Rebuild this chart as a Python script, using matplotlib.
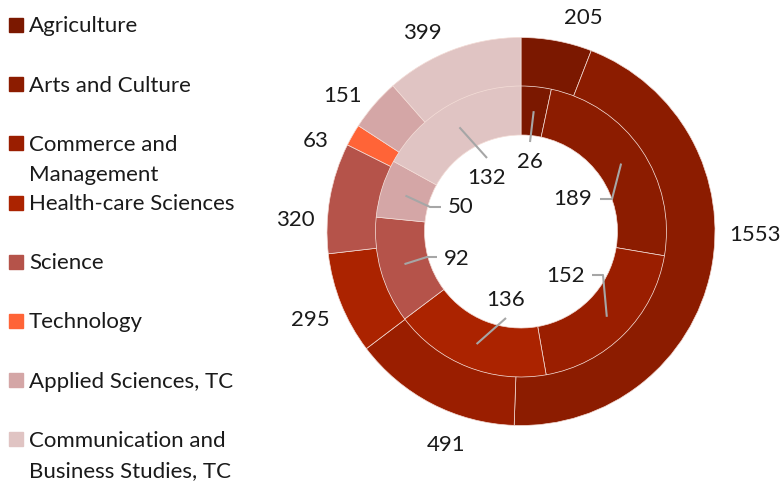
import matplotlib
matplotlib.use("Agg")
import matplotlib.pyplot as plt
from matplotlib.patches import Rectangle
import numpy as np

plt.rcParams['font.family'] = ['Lato', 'DejaVu Sans']

categories = ["Agriculture", "Arts and Culture", "Commerce and\nManagement",
              "Health-care Sciences", "Science", "Technology",
              "Applied Sciences, TC", "Communication and\nBusiness Studies, TC"]
outer_values = [205, 1553, 491, 295, 320, 63, 151, 399]
inner_values = [26, 189, 152, 136, 92, 0, 50, 132]
colors = ["#7b1800", "#8c1c00", "#9a1e00", "#ab2300", "#b5534a", "#ff6437",
          "#d4a6a6", "#e0c4c3"]

W, H = 780, 482
CX, CY, R = 521, 231.5, 194.0   # pie centre and outer radius in pixels


def px(x, y):
    return (x - CX) / R, (CY - y) / R


fig = plt.figure(figsize=(7.8, 4.82), dpi=100)
ax = fig.add_axes([0, 0, 1, 1])

ring = 49 / R
mid_r = 145.5 / R
ax.pie(outer_values, radius=1.0, colors=colors, startangle=90, counterclock=False,
       wedgeprops=dict(width=ring, edgecolor="#f3dcd6", linewidth=0.5))

inner_keep = [i for i, v in enumerate(inner_values) if v > 0]
ax.pie([inner_values[i] for i in inner_keep], radius=mid_r,
       colors=[colors[i] for i in inner_keep], startangle=90, counterclock=False,
       wedgeprops=dict(width=ring, edgecolor="#f3dcd6", linewidth=0.5))

ax.set_xlim(px(0, 0)[0], px(W, 0)[0])
ax.set_ylim(px(0, H)[1], px(0, 0)[1])
ax.set_aspect("equal")
ax.axis("off")

# outer labels (pixel centres)
outer_pos = [(583, 18), (755, 235), (446, 445), (310, 319.5), (295.5, 219.5),
             (315.5, 141), (343, 96.5), (422, 33)]
for v, (x, y) in zip(outer_values, outer_pos):
    ax.text(*px(x, y), str(v), ha="center", va="center", fontsize=16, color="#1a1a1a")

# inner labels with leader lines
inner_layout = {
    0: ((530, 162), [(530, 142)]),
    1: ((573, 199), [(612, 199), (600, 199)]),
    2: ((566, 276), [(603, 275), (592, 275)]),
    3: ((506, 300), [(506, 318)]),
    4: ((457, 259), [(427, 257), (437, 257)]),
    6: ((461, 207), [(430, 207), (441, 207)]),
    7: ((487, 178), [(487, 158)]),
}
total_in = sum(inner_values)
cum = np.cumsum([0] + inner_values)
anchor_r = (mid_r + (mid_r - ring)) / 2
for i, ((tx, ty), path) in inner_layout.items():
    mid = (cum[i] + cum[i + 1]) / 2 / total_in * 2 * np.pi
    ax_, ay_ = anchor_r * np.sin(mid), anchor_r * np.cos(mid)
    pts = [(ax_, ay_)] + [px(x, y) for x, y in path]
    ax.plot([p[0] for p in pts], [p[1] for p in pts], color="#a6a6a6", lw=1.5,
            solid_capstyle="butt")
    ax.text(*px(tx, ty), str(inner_values[i]), ha="center", va="center",
            fontsize=16, color="#1a1a1a")

# legend
slot0, step = 25, 59.2
for k, (name, c) in enumerate(zip(categories, colors)):
    yc = slot0 + step * k
    fig.patches.append(Rectangle((9 / W, 1 - (yc + 7) / H), 14 / W, 14 / H,
                                 transform=fig.transFigure, color=c))
    for j, line in enumerate(name.split("\n")):
        fig.text(29 / W, 1 - (yc + 7.5 + 30 * j) / H, line, ha="left",
                 va="baseline", fontsize=16, color="#1a1a1a")

fig.savefig("out.png", dpi=100)
